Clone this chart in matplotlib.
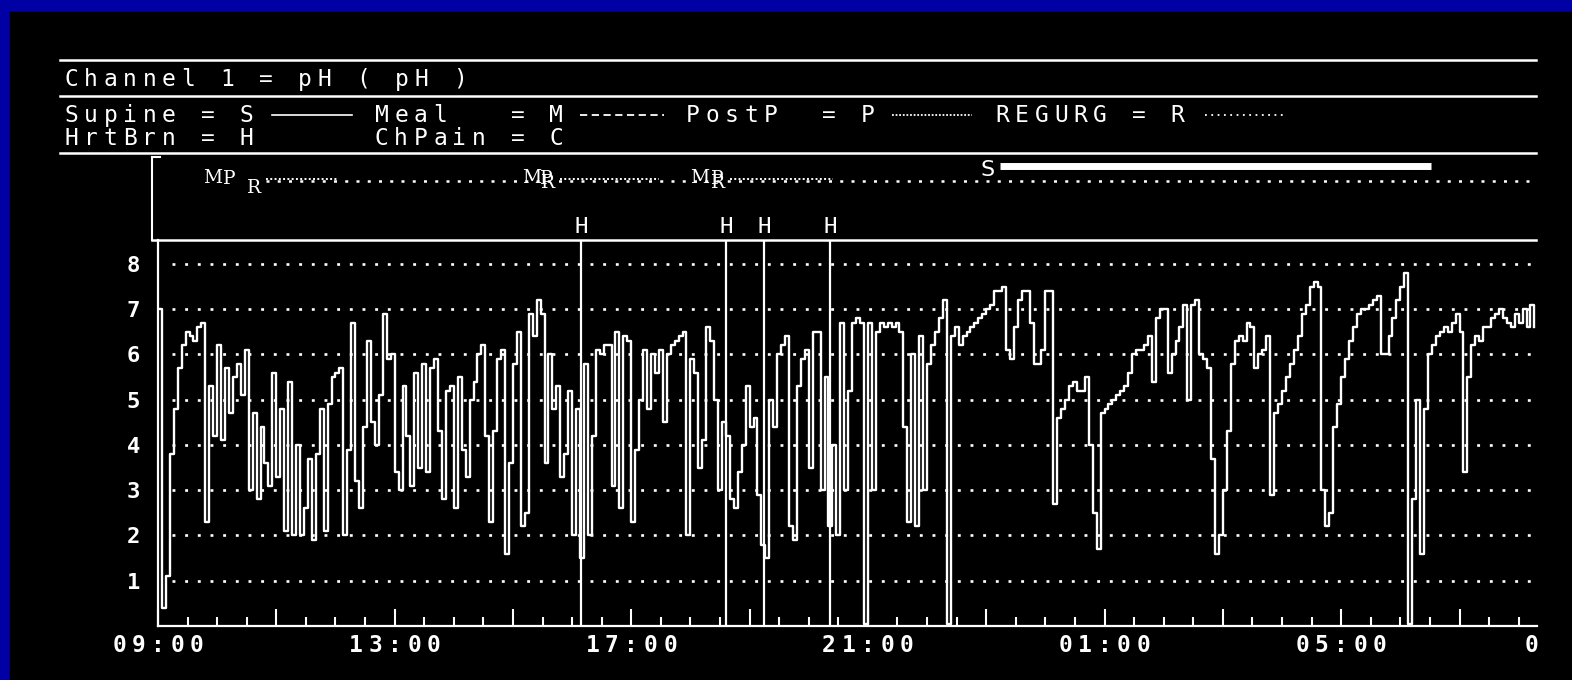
import matplotlib
matplotlib.use("Agg")
import matplotlib.pyplot as plt
import numpy as np
from matplotlib.patches import Rectangle
from matplotlib.transforms import offset_copy

W, H = 1572, 680
MONO = "DejaVu Sans Mono"

# pH channel, recorder samples every 4 minutes starting 09:00
ph_0900 = [7.0, 0.4, 1.1, 3.8, 4.8, 5.7, 6.2, 6.5, 6.4, 6.3, 6.6, 6.7, 2.3, 5.3, 4.2,
           6.2, 4.1, 5.7, 4.7, 5.5, 5.8, 5.1, 6.1, 3.0, 4.7, 2.8, 4.4, 3.6, 3.1, 5.6,
           3.3, 4.8, 2.1, 5.4, 2.0, 4.0, 2.0, 2.6, 3.7, 1.9, 3.8, 4.8, 2.1, 4.9, 5.5,
           5.6, 5.7, 2.0, 3.9, 6.7, 3.2, 2.6, 4.4, 6.3, 4.5, 4.0, 5.1, 6.9, 5.9, 6.0]
ph_1300 = [3.4, 3.0, 5.3, 4.2, 3.1, 5.6, 3.5, 5.8, 3.4, 5.7, 5.9, 4.3, 2.8, 5.2, 5.3,
           2.6, 5.5, 3.9, 3.3, 5.0, 5.4, 6.0, 6.2, 4.2, 2.3, 4.3, 5.9, 6.1, 1.6, 3.6,
           5.8, 6.5, 2.2, 2.5, 6.9, 6.4, 7.2, 6.9, 3.6, 6.0, 4.8, 5.3, 3.3, 3.8, 5.2,
           2.0, 4.8, 1.5, 5.8, 2.0, 4.2, 6.1, 6.0, 6.2, 6.2, 3.1, 6.5, 2.6, 6.4, 6.3]
ph_1700 = [2.3, 3.9, 5.0, 6.1, 4.8, 6.0, 5.6, 6.1, 4.5, 6.0, 6.2, 6.3, 6.4, 6.5, 2.0,
           5.9, 5.6, 3.5, 4.1, 6.6, 6.3, 5.0, 3.0, 4.5, 4.2, 2.8, 2.6, 3.4, 4.0, 5.3,
           4.4, 4.6, 2.9, 1.8, 1.5, 5.0, 4.4, 6.0, 6.2, 6.4, 2.2, 1.9, 5.3, 5.9, 6.1,
           3.5, 6.5, 6.5, 3.0, 5.5, 2.2, 4.0, 2.0, 6.7, 3.0, 5.2, 6.7, 6.8, 6.7, 0.05]
ph_2100 = [6.7, 3.0, 6.5, 6.7, 6.6, 6.7, 6.6, 6.7, 6.5, 4.4, 2.3, 6.0, 2.2, 6.4, 3.0,
           5.8, 6.2, 6.5, 6.8, 7.2, 0.05, 6.4, 6.6, 6.2, 6.4, 6.5, 6.6, 6.7, 6.8, 6.9,
           7.0, 7.1, 7.4, 7.4, 7.5, 6.1, 5.9, 6.6, 7.2, 7.4, 7.4, 6.7, 5.8, 5.8, 6.1,
           7.4, 7.4, 2.7, 4.6, 4.8, 5.0, 5.3, 5.4, 5.2, 5.2, 5.5, 4.0, 2.5, 1.7, 4.7]
ph_0100 = [4.8, 4.9, 5.0, 5.1, 5.2, 5.3, 5.6, 6.0, 6.1, 6.1, 6.2, 6.4, 5.4, 6.8, 7.0,
           7.0, 5.6, 6.0, 6.3, 6.6, 7.1, 5.0, 7.1, 7.2, 6.0, 5.9, 5.7, 3.7, 1.6, 2.0,
           3.0, 4.3, 5.8, 6.3, 6.4, 6.3, 6.7, 6.6, 5.7, 6.0, 6.1, 6.4, 2.9, 4.7, 4.9,
           5.2, 5.5, 5.8, 6.1, 6.4, 6.9, 7.1, 7.5, 7.6, 7.5, 3.0, 2.2, 2.5, 4.4, 4.9]
ph_0500 = [5.5, 5.9, 6.3, 6.6, 6.9, 7.0, 7.0, 7.1, 7.2, 7.3, 6.0, 6.0, 6.4, 6.8, 7.2,
           7.5, 7.8, 0.05, 2.8, 5.0, 1.6, 4.8, 6.0, 6.2, 6.4, 6.5, 6.6, 6.5, 6.7, 6.9,
           6.5, 3.4, 5.5, 6.2, 6.4, 6.3, 6.6, 6.6, 6.8, 6.9, 7.0, 6.8, 6.7, 6.6, 6.9,
           6.7, 7.0, 6.6, 7.1, 6.6]
SAMPLES_PER_HOUR = 15

tick_hours = [0, 4, 8, 12, 16, 20, 24]
tick_labels = ["09:00", "13:00", "17:00", "21:00", "01:00", "05:00", "09:00"]

# event markers (hours after 09:00)
meal_t = [0.93, 6.32, 9.16]
postp_t = [1.20, 6.56, 9.45]
postp_end = [3.03, 8.47, 11.41]
regurg_t = [1.62, 6.59, 9.47]
heartburn_t = [7.15, 9.60, 10.25, 11.36]
supine_on, supine_off = 14.23, 21.52

SCREEN_RIGHT = 1541   # the recorder screen ends here
CELL = 19.4           # character cell width of the terminal font, px


def frac(l, t, r, b):
    return [l / W, 1 - b / H, (r - l) / W, (b - t) / H]


def mono(axis, x, y, s, size, **kw):
    # old terminal font: fixed character cells
    for k, ch in enumerate(s):
        if ch.strip():
            axis.text(x + (k + 0.5) * CELL, y, ch, ha="center", va="baseline",
                      fontsize=size, family=MONO, color="white", **kw)


fig = plt.figure(figsize=(W / 100, H / 100), dpi=100, facecolor="#0000a4")

bg = fig.add_axes([0, 0, 1, 1])
bg.set_xlim(0, W)
bg.set_ylim(H, 0)
bg.axis("off")
bg.add_patch(Rectangle((10, 12), W - 10, H - 12, color="black"))

# header
for yy in (60, 96, 153):
    bg.plot([60, 1536], [yy, yy], color="white", lw=1.8)
mono(bg, 62, 86, "Channel 1 = pH ( pH )", 16.5)
mono(bg, 62, 122, "Supine = S", 16.5)
mono(bg, 372, 122, "Meal   = M", 16.5)
mono(bg, 683, 122, "PostP  = P", 16.5)
mono(bg, 993, 122, "REGURG = R", 16.5)
mono(bg, 62, 145, "HrtBrn = H", 16.5)
mono(bg, 372, 145, "ChPain = C", 16.5)
bg.plot([272, 352], [115, 115], color="white", lw=1.2)
bg.plot([580, 664], [115, 115], color="white", lw=1.3, ls=(0, (4, 2.5)))
bg.plot([892, 972], [115, 115], color="white", lw=1.3, ls=(0, (1, 1)))
bg.plot([1205, 1283], [115, 115], color="white", lw=1.3, ls=(0, (1, 2.5)))

# event box frame
bg.plot([152, 152], [157, 240], color="white", lw=1.5)
bg.plot([152, 160], [157, 157], color="white", lw=1.5)
bg.plot([152, 1536], [240, 240], color="white", lw=1.8)

# main pH axes
ax = fig.add_axes(frac(158, 240, 1537, 626))
ax.set_facecolor("none")
ph = np.array(ph_0900 + ph_1300 + ph_1700 + ph_2100 + ph_0100 + ph_0500)
t = np.arange(len(ph)) / SAMPLES_PER_HOUR
ax.set_xlim(0, 23.31)
ax.set_ylim(0, 8.53)

for v in range(1, 9):
    ax.axhline(v, xmin=14 / 1379, xmax=1, color="white", lw=1.9,
               ls=(0, (1.1, 3.7)), dash_capstyle="butt", zorder=1)
ax.plot(t, ph, drawstyle="steps-post", color="white", lw=1.7, zorder=2)
for h in heartburn_t:
    ax.axvline(h, color="white", lw=1.6, zorder=3)

for side in ("top", "right"):
    ax.spines[side].set_visible(False)
for side in ("left", "bottom"):
    ax.spines[side].set_color("white")
    ax.spines[side].set_linewidth(1.6)

ax.set_xticks(np.arange(0, 23.4, 2))
ax.set_xticks(np.arange(0, 23.4, 0.5), minor=True)
ax.tick_params(axis="x", which="major", direction="in", length=12.2, width=1.5,
               color="white", labelbottom=False)
ax.tick_params(axis="x", which="minor", direction="in", length=6.5, width=1.5,
               color="white")
ax.set_yticks(range(1, 9))
ax.tick_params(axis="y", length=0, pad=13, labelsize=16, labelcolor="white")
for lbl in ax.get_yticklabels():
    lbl.set_fontfamily(MONO)
    lbl.set_fontweight("bold")

# time labels; the recorder pulls a label left when it runs off the screen,
# and characters past the screen edge are not printed
xaxis_tr = ax.get_xaxis_transform()
for h, lab in zip(tick_hours, tick_labels):
    n = len(lab)
    centre = xaxis_tr.transform((h, 0))[0]
    shift = min(0.0, SCREEN_RIGHT - 10 - (centre - (n - 1) / 2 * CELL))
    for k, ch in enumerate(lab):
        dx = (k - (n - 1) / 2) * CELL + shift
        if centre + dx + 8 > SCREEN_RIGHT:
            continue
        tr = offset_copy(xaxis_tr, fig=fig, x=dx, y=-26, units="dots")
        fig.text(h, 0, ch, transform=tr, ha="center", va="baseline",
                 fontsize=16.5, family=MONO, weight="bold", color="white")

# event row
ev = fig.add_axes(frac(158, 153, 1537, 240), sharex=ax)
ev.set_facecolor("none")
ev.set_ylim(240, 153)
ev.axis("off")

ev.plot([regurg_t[0] + 0.2, 23.31], [181, 181], color="white", lw=1.8,
        ls=(0, (1.2, 3.3)), dash_capstyle="butt")
for m, p, r, e in zip(meal_t, postp_t, regurg_t, postp_end):
    ev.plot([max(p, r) + 0.2, e], [179, 179], color="white", lw=1.4,
            ls=(0, (1, 1.2)), dash_capstyle="butt")
    ev.text(m, 183, "M", ha="center", va="baseline", fontsize=13.5,
            family="DejaVu Serif", color="white")
    ev.text(p, 184, "P", ha="center", va="baseline", fontsize=13.5,
            family="DejaVu Serif", color="white")
    ev.text(r, 193 if r - p > 0.2 else 188, "R", ha="center", va="baseline",
            fontsize=13.5, family="DejaVu Serif", color="white")

ev.plot([supine_on, supine_off], [166, 166], color="white", lw=5,
        solid_capstyle="butt")
ev.text(supine_on - 0.2, 176, "S", ha="center", va="baseline", fontsize=16,
        family="DejaVu Sans", color="white")
for h in heartburn_t:
    ev.text(h, 233, "H", ha="center", va="baseline", fontsize=16,
            family=MONO, color="white")

fig.savefig("out.png", dpi=100, facecolor=fig.get_facecolor())
